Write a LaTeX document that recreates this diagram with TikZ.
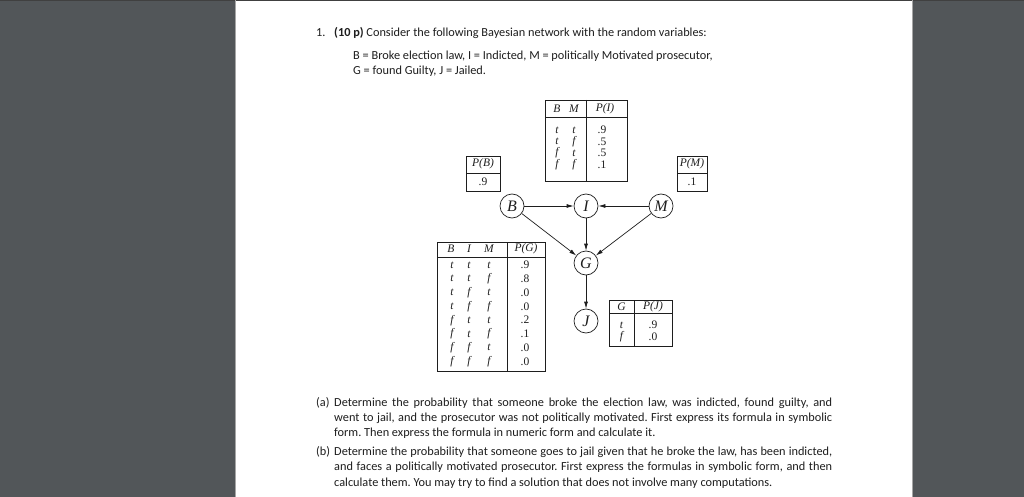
\documentclass[tikz,border=0pt]{standalone}
\usepackage{fontspec}
\setmainfont{Carlito}
\newfontfamily\tms{Liberation Serif}
\usetikzlibrary{arrows.meta}
\definecolor{viewerbg}{HTML}{525659}
\definecolor{ink}{HTML}{1E1E1E}
\tikzset{
  txt/.style={anchor=base west, inner sep=0, text=ink, font=\fontsize{12.3}{15}\selectfont\frenchspacing},
  tab/.style={inner sep=0, text=ink, font=\tms\fontsize{11.5}{12}\selectfont},
  tabit/.style={tab, font=\tms\itshape\fontsize{11.5}{12}\selectfont},
  var/.style={circle, draw=ink, line width=0.7pt, minimum size=24pt, inner sep=0, text=ink, font=\tms\itshape\fontsize{16}{16}\selectfont},
  arr/.style={-{Latex[length=7pt,width=4pt]}, line width=0.7pt, draw=ink},
  frame/.style={draw=ink, line width=0.9pt}
}
\begin{document}
\begin{tikzpicture}[x=1pt,y=-1pt]
\fill[viewerbg] (0,0) rectangle (1024,497);
\useasboundingbox (0,0) rectangle (1024,497);
\fill[white] (235,0) rectangle (912,497);
\fill[black!75] (0,0) rectangle (1024,1.5);
\draw[gray!70, line width=0.8pt] (235,0) -- (235,497);
\draw[gray!70, line width=0.8pt] (912,0) -- (912,497);

% question text
\node[txt] (n1) at (316,37) {1.};
\node[txt] (q1) at (334,37) {\textbf{(10 p)} Consider the following Bayesian network with the random variables:};
\node[txt] (q2) at (353,60) {B = Broke election law, I = Indicted, M = politically Motivated prosecutor,};
\node[txt] (q3) at (353,75) {G = found Guilty, J = Jailed.};

% P(I) table
\draw[frame] (545,100) rectangle (627,181);
\draw[frame] (545,117) -- (627,117);
\draw[frame] (586,100) -- (586,181);
\node[tabit] (piB) at (557,109) {B};
\node[tabit] (piM) at (574,109) {M};
\node[tabit] (piH) at (605,109) {P(I)};
\node[tabit] (pi1a) at (557,130) {t};   \node[tabit] (pi1b) at (574,130) {t};   \node[tab] (pi1v) at (602,130) {.9};
\node[tabit] (pi2a) at (557,141.5) {t}; \node[tabit] (pi2b) at (574,141.5) {f}; \node[tab] (pi2v) at (602,141.5) {.5};
\node[tabit] (pi3a) at (557,153) {f};   \node[tabit] (pi3b) at (574,153) {t};   \node[tab] (pi3v) at (602,153) {.5};
\node[tabit] (pi4a) at (557,164.5) {f}; \node[tabit] (pi4b) at (574,164.5) {f}; \node[tab] (pi4v) at (602,164.5) {.1};

% P(B) table
\draw[frame] (466,156) rectangle (500,191);
\draw[frame] (466,173) -- (500,173);
\node[tabit] (pbH) at (483,164) {P(B)};
\node[tab] (pbv) at (483,182) {.9};

% P(M) table
\draw[frame] (677,156) rectangle (707,191);
\draw[frame] (677,173) -- (707,173);
\node[tabit] (pmH) at (692,164) {P(M)};
\node[tab] (pmv) at (692,182) {.1};

% P(G) table
\draw[frame] (437,242) rectangle (545,371);
\draw[frame] (437,257) -- (545,257);
\draw[frame] (507,242) -- (507,371);
\node[tabit] (pgB) at (451,249) {B};
\node[tabit] (pgI) at (469,249) {I};
\node[tabit] (pgM) at (489,249) {M};
\node[tabit] (pgH) at (526,249) {P(G)};
\foreach \a/\b/\c/\v [count=\k from 0] in {t/t/t/.9, t/t/f/.8, t/f/t/.0, t/f/f/.0, f/t/t/.2, f/t/f/.1, f/f/t/.0, f/f/f/.0}{
  \node[tabit] (pg\k a) at (452,265+13.8*\k) {\a};
  \node[tabit] (pg\k b) at (469,265+13.8*\k) {\b};
  \node[tabit] (pg\k c) at (489,265+13.8*\k) {\c};
  \node[tab] (pg\k v) at (525,265+13.8*\k) {\v};
}

% P(J) table
\draw[frame] (609,300) rectangle (672,346);
\draw[frame] (609,313) -- (672,313);
\draw[frame] (634,300) -- (634,346);
\node[tabit] (pjG) at (621.5,307) {G};
\node[tabit] (pjH) at (653,307) {P(J)};
\node[tabit] (pj1a) at (621.5,325) {t}; \node[tab] (pj1v) at (653,325) {.9};
\node[tabit] (pj2a) at (621.5,337) {f}; \node[tab] (pj2v) at (653,337) {.0};

% network
\node[var] (B) at (512,206) {B};
\node[var] (I) at (586,206) {I};
\node[var] (M) at (661,206) {M};
\node[var] (G) at (586,263) {G};
\node[var] (J) at (586,321) {J};
\draw[arr] (B) -- (I);
\draw[arr] (M) -- (I);
\draw[arr] (I) -- (G);
\draw[arr] (B) -- (G);
\draw[arr] (M) -- (G);
\draw[arr] (G) -- (J);

% part (a)
\node[txt] (la) at (316,406) {(a)};
\node[txt] (a1) at (334,406) {\hbox to 498pt{Determine the probability that someone broke the election law, was indicted, found guilty, and}};
\node[txt] (a2) at (334,421) {\hbox to 498pt{went to jail, and the prosecutor was not politically motivated. First express its formula in symbolic}};
\node[txt] (a3) at (334,436) {form. Then express the formula in numeric form and calculate it.};

% part (b)
\node[txt] (lb) at (316,455) {(b)};
\node[txt] (b1) at (334,455) {\hbox to 498pt{Determine the probability that someone goes to jail given that he broke the law, has been indicted,}};
\node[txt] (b2) at (334,470.5) {\hbox to 498pt{and faces a politically motivated prosecutor. First express the formulas in symbolic form, and then}};
\node[txt] (b3) at (334,486) {calculate them. You may try to find a solution that does not involve many computations.};
\end{tikzpicture}
\end{document}
